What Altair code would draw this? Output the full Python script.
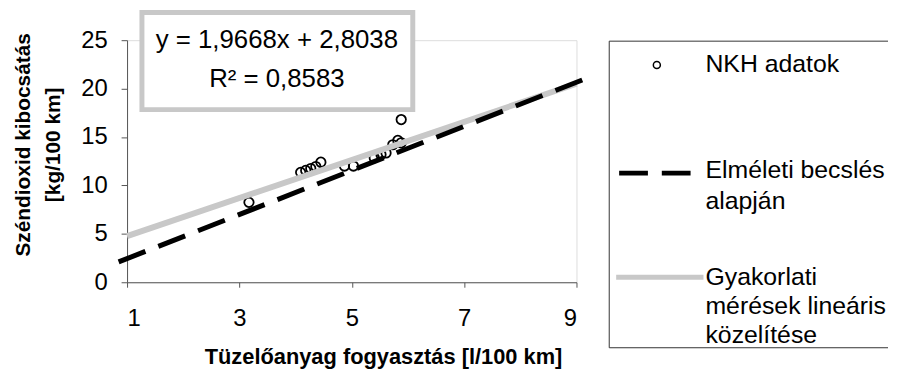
import altair as alt
import pandas as pd

FONT = "Liberation Sans"

# ---- data ----
fuel = [3.17, 4.09, 4.18, 4.27, 4.36, 4.45, 4.87, 5.03, 5.40, 5.52, 5.61, 5.73, 5.82, 5.88, 5.88]
co2 = [8.25, 11.35, 11.55, 11.75, 11.95, 12.4, 12.0, 12.0, 12.85, 13.2, 13.35, 14.2, 14.65, 14.4, 16.8]

theory_x = [0.85, 9.15]
theory_y = [2.1, 21.0]

trend_x = [1, 9]
trend_y = [4.77, 20.50]

x_ticks = [1, 3, 5, 7, 9]
y_ticks = [0, 5, 10, 15, 20, 25]

equation_lines = ["y = 1,9668x + 2,8038", "R² = 0,8583"]
legend_point = "NKH adatok"
legend_theory = ["Elméleti becslés", "alapján"]
legend_trend = ["Gyakorlati", "mérések lineáris", "közelítése"]
x_title = "Tüzelőanyag fogyasztás [l/100 km]"
y_title = ["Széndioxid kibocsátás", "[kg/100 km]"]

pts_df = pd.DataFrame({"fuel": fuel, "co2": co2})
theory_df = pd.DataFrame({"fuel": theory_x, "co2": theory_y})
trend_df = pd.DataFrame({"fuel": trend_x, "co2": trend_y})
one = pd.DataFrame({"k": [0]})

W, H = 453, 244
GRAY = "#c8c8c8"

x_scale = alt.Scale(domain=[1, 9], nice=False, zero=False)
y_scale = alt.Scale(domain=[0, 25], nice=False, zero=False)

x_axis = alt.Axis(
    values=x_ticks, format="d", grid=False, domainColor="#555", tickColor="#555",
    tickSize=5, labelFont=FONT, labelFontSize=24, labelColor="black",
    labelPadding=20, title=x_title, titleFont=FONT, titleFontSize=22,
    titleFontWeight="bold", titleColor="black", titleX=258, titleY=75,
    titleBaseline="middle", titleAlign="center", titleAnchor="middle",
)
y_axis = alt.Axis(
    values=y_ticks, format="d", grid=False, domainColor="#555", tickColor="#555",
    tickSize=6, labelFont=FONT, labelFontSize=24, labelColor="black",
    labelPadding=14, title=y_title, titleFont=FONT, titleFontSize=21,
    titleFontWeight="bold", titleColor="black", titleX=-98, titleY=105,
    titleAngle=270, titleAlign="center", titleBaseline="alphabetic",
    titleLineHeight=30,
)

X = alt.X("fuel:Q", scale=x_scale, axis=x_axis)
Y = alt.Y("co2:Q", scale=y_scale, axis=y_axis)

points = alt.Chart(pts_df).mark_point(
    shape="circle", filled=False, color="black", strokeWidth=1.8, size=90, opacity=1
).encode(x=X, y=Y)

trend = alt.Chart(trend_df).mark_line(
    color=GRAY, strokeWidth=6, clip=False
).encode(x="fuel:Q", y="co2:Q")

theory = alt.Chart(theory_df).mark_line(
    color="black", strokeWidth=5, strokeDash=[29, 14], clip=False
).encode(x="fuel:Q", y="co2:Q")

# equation box
eq_box = alt.Chart(one).mark_rect(
    fill="white", stroke=GRAY, strokeWidth=5
).encode(x=alt.value(15), x2=alt.value(288), y=alt.value(-28), y2=alt.value(70))

eq_layers = []
for txt, yy in zip(equation_lines, [0, 39]):
    eq_layers.append(
        alt.Chart(one).mark_text(
            font=FONT, fontSize=26, color="black", align="center", baseline="middle"
        ).encode(x=alt.value(151), y=alt.value(yy), text=alt.value(txt))
    )

# legend
LX0, LX1, LY0, LY1 = 486, 767, 1, 310
box = [
    alt.Chart(one).mark_rule(color="#333", strokeWidth=1).encode(
        x=alt.value(LX0), x2=alt.value(LX1), y=alt.value(LY0)),
    alt.Chart(one).mark_rule(color="#333", strokeWidth=1).encode(
        x=alt.value(LX0), x2=alt.value(LX1), y=alt.value(LY1)),
    alt.Chart(one).mark_rule(color="#333", strokeWidth=1).encode(
        x=alt.value(LX0), y=alt.value(LY0), y2=alt.value(LY1)),
]
leg_pt = alt.Chart(one).mark_point(
    shape="circle", filled=False, color="black", strokeWidth=1.5, size=50, opacity=1
).encode(x=alt.value(534), y=alt.value(25))
leg_dash = alt.Chart(one).mark_rule(
    color="black", strokeWidth=5, strokeDash=[29, 14]
).encode(x=alt.value(496), x2=alt.value(568), y=alt.value(134))
leg_gray = alt.Chart(one).mark_rule(color=GRAY, strokeWidth=5).encode(
    x=alt.value(493), x2=alt.value(581), y=alt.value(239))

leg_text = []
for txt, yy in [(legend_point, 24)] + list(zip(legend_theory, [131, 162])) + list(zip(legend_trend, [239, 268, 297])):
    leg_text.append(
        alt.Chart(one).mark_text(
            font=FONT, fontSize=25, color="black", align="left", baseline="middle"
        ).encode(x=alt.value(583), y=alt.value(yy), text=alt.value(txt))
    )

chart = alt.layer(
    points, trend, theory, eq_box, *eq_layers, *box, leg_pt, leg_dash, leg_gray, *leg_text
).properties(
    width=W, height=H, padding={"left": 5, "top": 0, "right": 0, "bottom": 0}
).configure_view(stroke=None).configure(background="white")

chart.save("out.html", embed_options={"renderer": "svg", "actions": False})
